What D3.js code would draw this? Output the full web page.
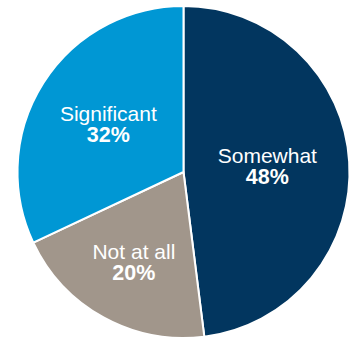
<!DOCTYPE html>
<html>
<head>
<meta charset="utf-8">
<script src="https://cdn.jsdelivr.net/npm/d3@7"></script>
<style>
  html, body { margin: 0; padding: 0; background: #fff; }
  svg { display: block; }
  text { font-family: "Liberation Sans", Arial, Helvetica, sans-serif; fill: #fff; }
</style>
</head>
<body>
<svg id="chart" width="357" height="339"></svg>
<script>
// Share of responses by level
const categories = ["Somewhat", "Not at all", "Significant"];
const values = [48, 20, 32];
const valueLabels = ["48%", "20%", "32%"];
const colors = ["#02365f", "#a1968b", "#0097d4"];

// Distance of each label block from the centre (px)
const labelRadius = [84, 103, 89];

const width = 357, height = 339;
const cx = 183.5, cy = 172, radius = 166;

const svg = d3.select("#chart");
const g = svg.append("g").attr("transform", `translate(${cx},${cy})`);

const pie = d3.pie().sort(null).value(d => d);
const arcs = pie(values);
const arc = d3.arc().innerRadius(0).outerRadius(radius);

g.selectAll("path.slice")
  .data(arcs)
  .join("path")
  .attr("class", "slice")
  .attr("d", arc)
  .attr("fill", (d, i) => colors[i])
  .attr("stroke", "#fff")
  .attr("stroke-width", 2)
  .attr("stroke-linejoin", "round");

const labels = g.selectAll("g.label")
  .data(arcs)
  .join("g")
  .attr("class", "label")
  .attr("transform", (d, i) => {
    const a = (d.startAngle + d.endAngle) / 2;
    const r = labelRadius[i];
    return `translate(${r * Math.sin(a)},${-r * Math.cos(a)})`;
  });

labels.append("text")
  .attr("text-anchor", "middle")
  .attr("y", -3.5)
  .style("font-size", "21px")
  .text((d, i) => categories[i]);

labels.append("text")
  .attr("text-anchor", "middle")
  .attr("y", 17.5)
  .style("font-size", "21.5px")
  .style("font-weight", "bold")
  .text((d, i) => valueLabels[i]);
</script>
</body>
</html>
